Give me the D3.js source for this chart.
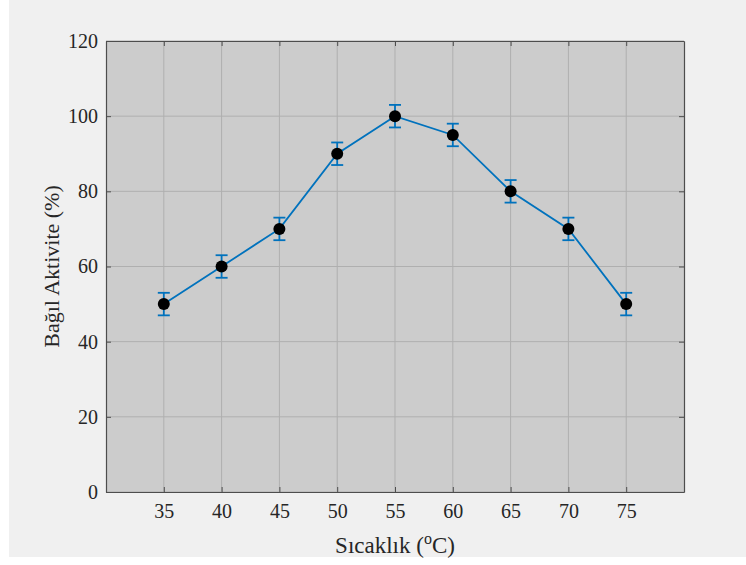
<!DOCTYPE html>
<html>
<head>
<meta charset="utf-8">
<script src="https://cdn.jsdelivr.net/npm/d3@7"></script>
<style>
  body { margin: 0; background: #ffffff; }
  svg text { font-family: "Liberation Serif", "Times New Roman", serif; fill: #262626; }
</style>
</head>
<body>
<svg id="canvas"></svg>
<script>
// data
let temps = [35, 40, 45, 50, 55, 60, 65, 70, 75];
let activity = [50, 60, 70, 90, 100, 95, 80, 70, 50];
let errors = [3, 3, 3, 3, 3, 3, 3, 3, 3];
let xTicks = [35, 40, 45, 50, 55, 60, 65, 70, 75];
let yTicks = [0, 20, 40, 60, 80, 100, 120];

var width = 746, height = 565;
var margin = {top: 41, left: 106, right: 62, bottom: 73};

let svg = d3.select('#canvas')
    .attr('width', width)
    .attr('height', height);

// figure background
svg.append('rect')
    .attr('x', 9).attr('y', 0)
    .attr('width', width - 9).attr('height', 557)
    .attr('fill', '#f0f0f0');

var x = d3.scaleLinear().domain([30, 80]).range([margin.left, width - margin.right]);
var y = d3.scaleLinear().domain([0, 120]).range([height - margin.bottom, margin.top]);

// axes box
svg.append('rect')
    .attr('x', x(30)).attr('y', y(120))
    .attr('width', x(80) - x(30)).attr('height', y(0) - y(120))
    .attr('fill', '#cccccc');

// grid
let grid = svg.append('g');
grid.selectAll('.gx').data(xTicks).enter().append('line')
    .attr('x1', d => x(d)).attr('x2', d => x(d))
    .attr('y1', y(0)).attr('y2', y(120))
    .attr('stroke', '#afafaf').attr('stroke-width', 1);
grid.selectAll('.gy').data(yTicks).enter().append('line')
    .attr('x1', x(30)).attr('x2', x(80))
    .attr('y1', d => y(d)).attr('y2', d => y(d))
    .attr('stroke', '#afafaf').attr('stroke-width', 1);

// axes
let xAxis = svg.append('g')
    .attr('transform', 'translate(0,' + y(0) + ')')
    .call(d3.axisBottom(x).tickValues(xTicks).tickSizeInner(-5).tickSizeOuter(0).tickPadding(12));
let xTop = svg.append('g')
    .attr('transform', 'translate(0,' + y(120) + ')')
    .call(d3.axisTop(x).tickValues(xTicks).tickSizeInner(-5).tickSizeOuter(0).tickFormat(''));
let yAxis = svg.append('g')
    .attr('transform', 'translate(' + x(30) + ',0)')
    .call(d3.axisLeft(y).tickValues(yTicks).tickSizeInner(-5).tickSizeOuter(0).tickPadding(8));
let yRight = svg.append('g')
    .attr('transform', 'translate(' + x(80) + ',0)')
    .call(d3.axisRight(y).tickValues(yTicks).tickSizeInner(-5).tickSizeOuter(0).tickFormat(''));

[xAxis, xTop, yAxis, yRight].forEach(function(a) {
    a.select('.domain').attr('stroke', '#4d4d4d').attr('stroke-width', 1.2);
    a.selectAll('.tick line').attr('stroke', '#4d4d4d');
    a.selectAll('.tick text').attr('font-size', 20).attr('fill', '#262626')
        .style('font-family', '"Liberation Serif", serif');
});

// line
let line = d3.line().x((d, i) => x(temps[i])).y(d => y(d));
svg.append('path')
    .datum(activity)
    .attr('d', line)
    .attr('fill', 'none')
    .attr('stroke', '#0072bd')
    .attr('stroke-width', 1.8);

// error bars
let eb = svg.append('g').attr('stroke', '#0072bd').attr('stroke-width', 1.8);
temps.forEach(function(t, i) {
    let cx = x(t), lo = y(activity[i] - errors[i]), hi = y(activity[i] + errors[i]);
    eb.append('line').attr('x1', cx).attr('x2', cx).attr('y1', lo).attr('y2', hi);
    eb.append('line').attr('x1', cx - 6).attr('x2', cx + 6).attr('y1', lo).attr('y2', lo);
    eb.append('line').attr('x1', cx - 6).attr('x2', cx + 6).attr('y1', hi).attr('y2', hi);
});

// markers
svg.selectAll('.pt')
    .data(activity)
    .enter()
    .append('circle')
    .attr('class', 'pt')
    .attr('cx', (d, i) => x(temps[i]))
    .attr('cy', d => y(d))
    .attr('r', 6)
    .attr('fill', '#000');

// labels
let xl = svg.append('text')
    .attr('x', (x(30) + x(80)) / 2)
    .attr('y', 553)
    .attr('text-anchor', 'middle')
    .attr('font-size', 23);
xl.append('tspan').text('Sıcaklık (');
xl.append('tspan').attr('font-size', 16).attr('dy', -9).text('o');
xl.append('tspan').attr('dy', 9).text('C)');

svg.append('text')
    .attr('transform', 'translate(59,' + ((y(0) + y(120)) / 2) + ') rotate(-90)')
    .attr('text-anchor', 'middle')
    .attr('font-size', 22)
    .text('Bağıl Aktivite (%)');
</script>
</body>
</html>
